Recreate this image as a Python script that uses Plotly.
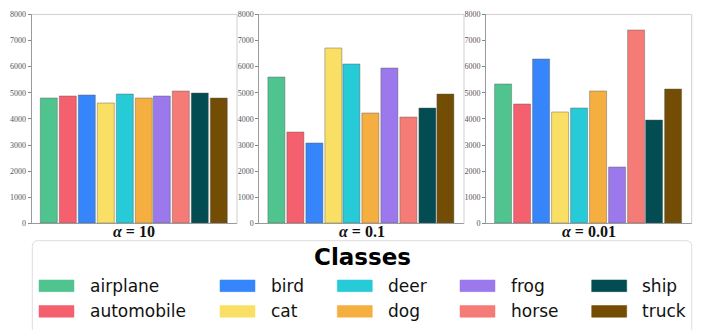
import plotly.graph_objects as go

# CIFAR-10 classes and per-class sample counts under three Dirichlet settings
classes = ["airplane", "automobile", "bird", "cat", "deer",
           "dog", "frog", "horse", "ship", "truck"]
colors = ["#50c48f", "#f5606f", "#3685fb", "#f9e064", "#27cad7",
          "#f5af40", "#9b78eb", "#f47b76", "#034c52", "#734d03"]

alpha_labels = ["<i>α</i> = 10", "<i>α</i> = 0.1", "<i>α</i> = 0.01"]
counts_alpha_10 = [4800, 4860, 4910, 4590, 4950, 4800, 4850, 5035, 4975, 4800]
counts_alpha_01 = [5595, 3475, 3065, 6685, 6090, 4215, 5930, 4070, 4415, 4950]
counts_alpha_001 = [5335, 4565, 6290, 4255, 4405, 5060, 2145, 7390, 3930, 5145]
panels = [counts_alpha_10, counts_alpha_01, counts_alpha_001]

y_ticks = [0, 1000, 2000, 3000, 4000, 5000, 6000, 7000, 8000]

W, H = 708, 330


def px(x):
    return x / W


def py(y):
    return 1 - y / H


# panel rectangles in pixels (left, right), shared top/bottom
panel_x = [(31.7, 237.0), (259.3, 464.0), (486.0, 691.7)]
panel_top, panel_bottom = 10.7, 225.6

fig = go.Figure()
shapes = []
annotations = []

for i, vals in enumerate(panels):
    n = i + 1
    xa = "x" if n == 1 else f"x{n}"
    ya = "y" if n == 1 else f"y{n}"
    fig.add_trace(go.Bar(
        x=list(range(len(classes))), y=vals,
        marker=dict(color=colors,
                    line=dict(color="rgba(90,90,90,0.55)", width=0.8)),
        width=0.9, xaxis=xa, yaxis=ya, showlegend=False,
        hovertext=classes,
    ))
    l, r = panel_x[i]
    fig.layout[f"xaxis{'' if n == 1 else n}"] = dict(
        domain=[px(l), px(r)], anchor=ya, range=[-0.945, 9.945],
        showticklabels=False, ticks="", showgrid=False, zeroline=False,
        showline=True, linecolor="#9a9a9a", linewidth=1,
    )
    fig.layout[f"yaxis{'' if n == 1 else n}"] = dict(
        domain=[py(panel_bottom), py(panel_top)], anchor=xa,
        range=[0, 8000], tickvals=y_ticks, ticks="outside", ticklen=3,
        tickcolor="#888", tickwidth=1, showgrid=False, zeroline=False,
        showline=True, linecolor="#9a9a9a", linewidth=1,
        tickfont=dict(family="Liberation Serif", size=8, color="#555"),
    )
    # light frame on top and right sides
    shapes.append(dict(type="line", xref="paper", yref="paper",
                       x0=px(l), x1=px(r), y0=py(panel_top), y1=py(panel_top),
                       line=dict(color="#cfcfcf", width=1)))
    shapes.append(dict(type="line", xref="paper", yref="paper",
                       x0=px(r), x1=px(r), y0=py(panel_top), y1=py(panel_bottom),
                       line=dict(color="#cfcfcf", width=1)))
    annotations.append(dict(
        text=f"<b>{alpha_labels[i]}</b>", xref="paper", yref="paper",
        x=px((l + r) / 2), y=py(233.5), xanchor="center", yanchor="middle",
        showarrow=False,
        font=dict(family="Liberation Serif", size=16, color="#111"),
    ))

# legend box
bx0, bx1, by0, r_c = 32.3, 691.7, 243.3, 6
shapes.append(dict(
    type="path", xref="paper", yref="paper",
    path=(f"M {px(bx0)},{py(345)} L {px(bx0)},{py(by0 + r_c)} "
          f"Q {px(bx0)},{py(by0)} {px(bx0 + r_c)},{py(by0)} "
          f"L {px(bx1 - r_c)},{py(by0)} "
          f"Q {px(bx1)},{py(by0)} {px(bx1)},{py(by0 + r_c)} "
          f"L {px(bx1)},{py(345)}"),
    line=dict(color="#dedede", width=1), fillcolor="white",
))
annotations.append(dict(
    text="<b>Classes</b>", xref="paper", yref="paper",
    x=px(362), y=py(260.5), xanchor="center", yanchor="middle",
    showarrow=False,
    font=dict(family="DejaVu Sans", size=23, color="#000"),
))

# legend entries laid out column by column, two rows each
col_patch_x = [39.0, 220.0, 337.3, 460.0, 591.7]
row_y = [289.7, 316.0]
patch_w, patch_h, text_gap = 35.0, 12.0, 13.5
for k, name in enumerate(classes):
    c, rr = divmod(k, 2)
    x0 = col_patch_x[c]
    yc = row_y[rr]
    shapes.append(dict(
        type="rect", xref="paper", yref="paper",
        x0=px(x0), x1=px(x0 + patch_w),
        y0=py(yc + patch_h / 2), y1=py(yc - patch_h / 2),
        fillcolor=colors[k], line=dict(color=colors[k], width=0.5),
    ))
    annotations.append(dict(
        text=name, xref="paper", yref="paper",
        x=px(x0 + patch_w + text_gap), y=py(yc), xanchor="left",
        yanchor="middle", showarrow=False,
        font=dict(family="DejaVu Sans", size=17, color="#111"),
    ))

fig.update_layout(
    width=W, height=H, margin=dict(l=0, r=0, t=0, b=0),
    paper_bgcolor="white", plot_bgcolor="white",
    shapes=shapes, annotations=annotations, bargap=0,
)

fig.write_html("out.html")
